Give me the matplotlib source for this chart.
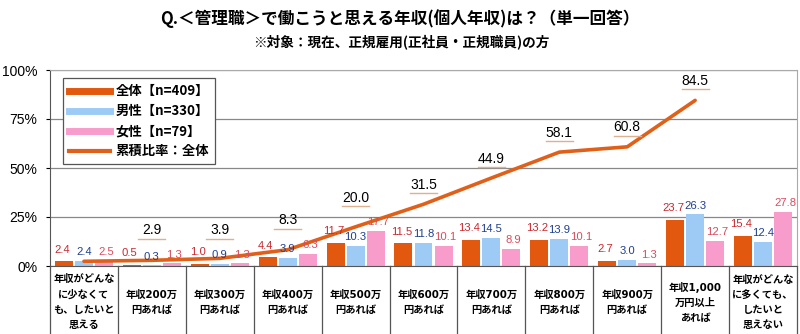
import matplotlib
matplotlib.use("Agg")
import matplotlib.pyplot as plt
import matplotlib.transforms as mtransforms
from matplotlib.lines import Line2D
import numpy as np

plt.rcParams['font.family'] = ['Liberation Sans', 'Noto Sans CJK JP']

categories = [
    "年収がどんな\nに少なくて\nも、したいと\n思える",
    "年収200万\n円あれば",
    "年収300万\n円あれば",
    "年収400万\n円あれば",
    "年収500万\n円あれば",
    "年収600万\n円あれば",
    "年収700万\n円あれば",
    "年収800万\n円あれば",
    "年収900万\n円あれば",
    "年収1,000\n万円以上\nあれば",
    "年収がどんな\nに多くても、\nしたいと\n思えない",
]
total = [2.4, 0.5, 1.0, 4.4, 11.7, 11.5, 13.4, 13.2, 2.7, 23.7, 15.4]
male = [2.4, 0.3, 0.9, 3.9, 10.3, 11.8, 14.5, 13.9, 3.0, 26.3, 12.4]
female = [2.5, 1.3, 1.3, 6.3, 17.7, 10.1, 8.9, 10.1, 1.3, 12.7, 27.8]
cumulative = [2.4, 2.9, 3.9, 8.3, 20.0, 31.5, 44.9, 58.1, 60.8, 84.5]
series_names = ["全体【n=409】", "男性【n=330】", "女性【n=79】", "累積比率：全体"]
yticks = [0, 25, 50, 75, 100]

c_total = "#E2580E"
c_male = "#9ECBF5"
c_female = "#F79CCB"
c_line = "#E0601A"
t_total = "#C8282E"
t_male = "#1F3F8F"
t_female = "#D94B5E"

fig = plt.figure(figsize=(8, 3.34), dpi=100)
ax = fig.add_axes([50/800, 68/334, 747/800, 196/334])

x = np.arange(len(categories))
w = 0.265
off = 0.295
for vals, dx, col, tc, hx, vy in [(total, -off, c_total, t_total, -1.5, 4.8),
                                  (male, 0, c_male, t_male, 0, 2.8),
                                  (female, off, c_female, t_female, 1.5, 2.8)]:
    ax.bar(x + dx, vals, width=w, color=col, zorder=2)
    for xi, v in zip(x, vals):
        ax.annotate(f"{v:.1f}", (xi + dx, v), xytext=(hx, vy), textcoords="offset points",
                    ha="center", va="bottom", fontsize=8.1, color=tc, zorder=4)

xc = x[:len(cumulative)]
ax.plot(xc, cumulative, color=c_line, lw=2.6, zorder=3, solid_capstyle="round")
for i, (xi, v) in enumerate(zip(xc, cumulative)):
    if i == 0:
        continue
    ypos = max(v, max(total[i], male[i], female[i]) + 7)
    ax.annotate(f"{v:.1f}", (xi, ypos), xytext=(0, 14), textcoords="offset points",
                ha="center", va="center", fontsize=10, color="black", zorder=5)
    tr = mtransforms.offset_copy(ax.transData, fig=fig, x=0, y=8.0, units="points")
    ax.plot([xi - 0.2, xi + 0.2], [ypos, ypos], transform=tr, color="#DDB090", lw=1.0,
            zorder=5, clip_on=False)

ax.set_xlim(-0.5, len(categories) - 0.5)
ax.set_ylim(0, 100)
ax.set_yticks(yticks)
ax.set_yticklabels([f"{t}%" for t in yticks], fontsize=10)
ax.tick_params(axis="y", length=3, pad=6)
ax.tick_params(axis="x", length=0)
ax.set_xticks([])
ax.grid(axis="y", color="#888888", lw=0.9, zorder=0)
for s in ["top", "right"]:
    ax.spines[s].set_color("#AAAAAA")
ax.spines["left"].set_color("#555555")
ax.spines["bottom"].set_color("#555555")

# category dividers and labels
for b in np.arange(-0.5, len(categories), 1.0):
    ax.plot([b, b], [0, -0.35], transform=ax.get_xaxis_transform(), color="#555555",
            lw=0.9, clip_on=False)
for xi, lab in zip(x, categories):
    ax.text(xi, -0.184, lab, transform=ax.get_xaxis_transform(), ha="center", va="center",
            fontsize=7.4, fontweight="bold", linespacing=1.62,
            family=['DejaVu Sans', 'Noto Sans CJK JP'])

handles = [Line2D([0], [0], color=c_total, lw=5),
           Line2D([0], [0], color=c_male, lw=5),
           Line2D([0], [0], color=c_female, lw=5),
           Line2D([0], [0], color=c_line, lw=3)]
leg = ax.legend(handles, series_names, loc="upper left", bbox_to_anchor=(0.017, 0.957),
                fancybox=False, edgecolor="#555555", framealpha=1, handlelength=3.1,
                handletextpad=0.4, labelspacing=0.45, borderpad=0.45, borderaxespad=0,
                prop={'family': ['Noto Sans CJK JP', 'Liberation Sans'], 'weight': 'bold', 'size': 9.6})
leg.get_frame().set_linewidth(0.9)
leg.set_zorder(6)

fig.text(0.5, 1 - 19/334, "Q.＜管理職＞で働こうと思える年収(個人年収)は？（単一回答）",
         ha="center", va="center", fontsize=12, fontweight="bold",
         family=['Noto Sans CJK JP', 'Liberation Sans'])
fig.text(0.502, 1 - 42/334, "※対象：現在、正規雇用(正社員・正規職員)の方",
         ha="center", va="center", fontsize=9.8, fontweight="bold",
         family=['Noto Sans CJK JP', 'Liberation Sans'])

fig.savefig("out.png", dpi=100)
